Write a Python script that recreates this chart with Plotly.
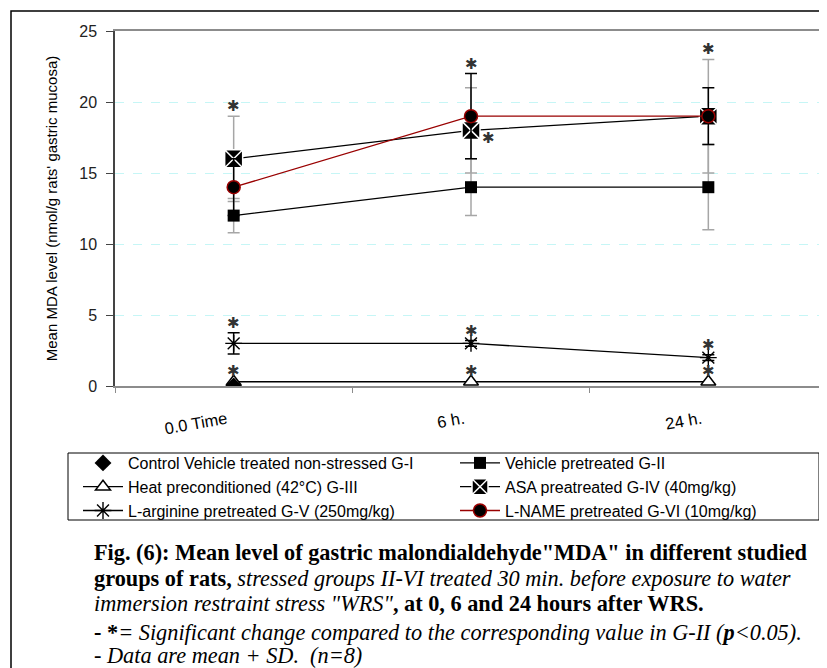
import plotly.graph_objects as go

# ---------------- data ----------------
times = ["0.0 Time", "6 h.", "24 h."]

control = [0.0, None, None]            # G-I (only baseline point)
vehicle = [12, 14, 14]                 # G-II
vehicle_sd = [1.2, 2, 3]
heat = [0.3, 0.3, 0.3]                 # G-III
heat_sd = [0.05, 0.05, 0.05]
asa = [16, 18, 19]                     # G-IV
asa_sd = [3, 3, 4]
larg = [3, 3, 2]                       # G-V
larg_sd = [0.75, 0.2, 0.2]
lname = [14, 19, 19]                   # G-VI
lname_sd = [2, 3, 2]

names = [
    "Control Vehicle treated non-stressed G-I",
    "Vehicle pretreated G-II",
    "Heat preconditioned (42°C) G-III",
    "ASA preatreated G-IV (40mg/kg)",
    "L-arginine pretreated G-V (250mg/kg)",
    "L-NAME pretreated G-VI (10mg/kg)",
]

# significance marks: (series key, time index, placement)
sig_marks = [
    ("asa", 0, "top"), ("lname", 1, "top"), ("asa", 1, "side"), ("asa", 2, "top"),
    ("larg", 0, "top"), ("larg", 1, "top"), ("larg", 2, "top"),
    ("heat", 0, "top"), ("heat", 1, "top"), ("heat", 2, "top"),
]

caption = [
    "<b>Fig. (6): Mean level of gastric malondialdehyde\"MDA\" in different studied</b>",
    "<b>groups of rats,</b> <i>stressed groups II-VI treated 30 min. before exposure to water</i>",
    "<i>immersion restraint stress \"WRS\"</i><b>, at 0, 6 and 24 hours after WRS.</b>",
    "<b>- *</b><i>= Significant change compared to the corresponding value in G-II (</i><b><i>p</i></b><i>&lt;0.05).</i>",
    "<i>- Data are mean + SD.  (n=8)</i>",
]

# ---------------- layout geometry ----------------
OFF = 8                      # page body margin
W, H = 827 - OFF, 668 - OFF
L, R, T, B = 115 - OFF, 0, 31 - OFF, (668 - OFF) - (386 - OFF)
PW, PH = W - L - R, H - T - B


def px(x):
    """screen x -> paper x"""
    return (x - OFF - L) / PW


def py(y):
    """screen y -> paper y"""
    return (H - B - (y - OFF)) / PH


SANS = "Liberation Sans, Arial, sans-serif"
GRAY = "#a6a6a6"

fig = go.Figure()

fig.add_trace(go.Scatter(
    x=times, y=vehicle, name=names[1], mode="lines+markers", legendrank=2,
    line=dict(color="black", width=1.3),
    marker=dict(symbol="square", size=12, color="black"),
    error_y=dict(type="data", array=vehicle_sd, color=GRAY, thickness=1.5, width=6),
))
fig.add_trace(go.Scatter(
    x=times, y=heat, name=names[2], mode="lines+markers", legendrank=3,
    line=dict(color="black", width=1.3),
    marker=dict(symbol="triangle-up", size=13, color="white", line=dict(color="black", width=1.5)),
    error_y=dict(type="data", array=heat_sd, color="black", thickness=1.2, width=4),
))
fig.add_trace(go.Scatter(
    x=times, y=asa, name=names[3], mode="lines+markers", legendrank=4,
    line=dict(color="black", width=1.3),
    marker=dict(symbol="square-x", size=18, color="black", line=dict(color="white", width=1.5)),
    error_y=dict(type="data", array=asa_sd, color=GRAY, thickness=1.5, width=6),
))
fig.add_trace(go.Scatter(
    x=times, y=larg, name=names[4], mode="lines+markers", legendrank=5,
    line=dict(color="black", width=1.3),
    marker=dict(symbol="asterisk-open", size=14, color="black", line=dict(color="black", width=1.4)),
    error_y=dict(type="data", array=larg_sd, color="black", thickness=1.5, width=6),
))
fig.add_trace(go.Scatter(
    x=times, y=lname, name=names[5], mode="lines+markers", legendrank=6,
    line=dict(color="#990000", width=1.3),
    marker=dict(symbol="circle", size=13, color="black", line=dict(color="#990000", width=1.5)),
    error_y=dict(type="data", array=lname_sd, color="black", thickness=1.5, width=6),
))
fig.add_trace(go.Scatter(
    x=times, y=control, name=names[0], mode="markers", legendrank=1,
    marker=dict(symbol="diamond", size=13, color="black"),
))

series = {"asa": (asa, asa_sd), "lname": (lname, lname_sd), "larg": (larg, larg_sd), "heat": (heat, heat_sd)}
STAR = dict(family="DejaVu Sans", size=15, color="#333")
annotations = []
for key, i, where in sig_marks:
    vals, sd = series[key]
    if where == "top":
        annotations.append(dict(x=times[i], y=vals[i] + sd[i], text="✱", showarrow=False,
                                xref="x", yref="y", yanchor="middle", yshift=10, font=STAR))
    else:
        annotations.append(dict(x=times[i], y=vals[i], text="✱", showarrow=False,
                                xref="x", yref="y", xanchor="center", yanchor="middle",
                                xshift=17, yshift=-8, font=STAR))

cap_y = [552, 578, 603, 632, 655]
for txt, yy in zip(caption, cap_y):
    annotations.append(dict(x=px(92), y=py(yy), xref="paper", yref="paper", text=txt,
                            showarrow=False, xanchor="left", yanchor="middle",
                            font=dict(family="Liberation Serif, Times New Roman, serif", size=22.3, color="black")))

fig.update_layout(
    width=W, height=H,
    margin=dict(l=L, r=R, t=T, b=B, pad=0, autoexpand=False),
    paper_bgcolor="white", plot_bgcolor="white",
    showlegend=True,
    legend=dict(orientation="h", x=px(78), y=py(446), xanchor="left", yanchor="top",
                borderwidth=0, bgcolor="rgba(0,0,0,0)",
                entrywidth=322, entrywidthmode="pixels",
                font=dict(family=SANS, size=16, color="black"),
                itemwidth=40, traceorder="normal"),
    annotations=annotations,
    shapes=[
        dict(type="rect", xref="paper", yref="paper", x0=px(11), y0=py(11), x1=1.2, y1=-2,
             line=dict(color="black", width=1.5), layer="below"),
        dict(type="rect", xref="paper", yref="paper", x0=px(68), y0=py(453), x1=px(819), y1=py(520),
             line=dict(color="black", width=1), fillcolor="white", layer="below"),
    ],
    xaxis=dict(type="category", range=[-0.5, 2.5], showline=True, linecolor="#8c8c8c", linewidth=1.5,
               mirror=True, showgrid=False, ticks="outside", tickson="boundaries", ticklen=5,
               tickcolor="#8c8c8c", tickangle=-10, ticklabelstandoff=16, ticklabelshift=-7,
               automargin=False,
               tickfont=dict(family=SANS, size=16.5, color="black")),
    yaxis=dict(range=[0, 25], dtick=5, showline=True, linecolor="#444", linewidth=1.5,
               ticks="outside", ticklen=7, tickcolor="#444", zeroline=False, automargin=False,
               ticklabelstandoff=6,
               showgrid=True, gridcolor="#c6f6f6", griddash="dash", gridwidth=1,
               tickfont=dict(family=SANS, size=16, color="#222"),
               title=dict(text="Mean MDA level (nmol/g rats' gastric mucosa)", standoff=18,
                          font=dict(family=SANS, size=15, color="black"))),
)

fig.write_html("out.html")
